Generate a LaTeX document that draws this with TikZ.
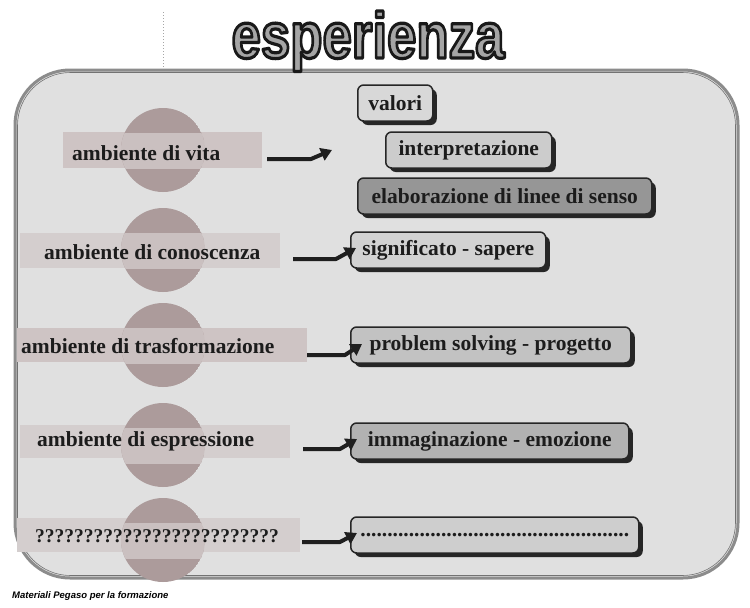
\documentclass[tikz,border=0pt]{standalone}
\usepackage{fontspec}
\setmainfont{Liberation Serif}
\newfontfamily\titlefont{Liberation Sans}
\usetikzlibrary{shadows,arrows.meta,calc}
\definecolor{boxbg}{RGB}{224,224,224}
\definecolor{boxedge}{RGB}{140,140,140}
\definecolor{circdark}{RGB}{172,155,155}
\definecolor{circlight}{RGB}{202,192,192}
\definecolor{bandcol}{RGB}{206,196,196}
\definecolor{bandfaint}{RGB}{212,206,206}
\definecolor{inkcol}{RGB}{28,28,28}
\definecolor{fillA}{RGB}{216,216,216}
\definecolor{fillB}{RGB}{204,204,204}
\definecolor{fillC}{RGB}{150,150,150}
\definecolor{fillD}{RGB}{210,210,210}
\definecolor{fillE}{RGB}{194,194,194}
\definecolor{fillF}{RGB}{178,178,178}
\definecolor{fillG}{RGB}{206,206,206}
\definecolor{titlefill}{RGB}{165,165,165}
\newcommand{\outlinedtext}[1]{\special{pdf:literal direct 0.1 G 2.4 w 1 j 2 Tr}#1\special{pdf:literal direct 0 Tr}}
\begin{document}
\begin{tikzpicture}[x=1pt,y=-1pt,
  envlabel/.style={font=\bfseries\fontsize{21.5}{24}\selectfont, text=inkcol, inner sep=0pt},
  rbox/.style={draw=black!85, line width=1.5pt, rounded corners=6pt,
     font=\bfseries\fontsize{21.5}{24}\selectfont, text=inkcol, minimum height=36pt,
     inner xsep=6pt, inner ysep=0pt, anchor=west,
     drop shadow={shadow xshift=4pt, shadow yshift=-4pt, fill=black!85, opacity=1}},
  conn/.style={line width=4pt, draw=black!88, line join=round,
     -{Triangle[length=11pt,width=13pt]}},
  band/.style={fill=bandcol},
  fband/.style={fill=bandfaint}
]
\useasboundingbox (0,0) rectangle (750,608);
\fill[white] (0,0) rectangle (750,608);

% faint dotted guide above the frame
\draw[black!35, dotted, line width=1pt] (163,12) -- (163,70);

% main frame
\draw[boxedge, line width=3pt, fill=boxbg, rounded corners=55pt] (15,70) rectangle (738,578);
\draw[black!55, line width=0.6pt, rounded corners=53pt] (17.5,72.5) rectangle (735.5,575.5);

% label bands
\fill[band] (63,132) rectangle (262,168);
\fill[fband] (20,233) rectangle (280,268);
\fill[band] (17,328) rectangle (307,362);
\fill[fband] (20,425) rectangle (290,458);
\fill[fband] (17,518) rectangle (300,552);

% circles
\foreach \cy in {150,250,345,445,540}{
  \begin{scope}
    \clip (163,\cy) circle (42);
    \fill[circdark] (163,\cy) circle (42);
    \fill[circlight] (110,\cy-17) rectangle (216,\cy+19);
  \end{scope}
}

% environment labels
\node[envlabel, anchor=west] (env1) at (72,153) {ambiente di vita};
\node[envlabel, anchor=west] (env2) at (44,252) {ambiente di conoscenza};
\node[envlabel, anchor=west] (env3) at (21,346) {ambiente di trasformazione};
\node[envlabel, anchor=west] (env4) at (37,441) {ambiente di espressione};
\node[envlabel, anchor=west, font=\bfseries\fontsize{19.5}{24}\selectfont] (env5) at (35,536) {?????????????????????????};

% right boxes
\node[rbox, fill=fillA, minimum width=75pt] (valori) at (357,103) {valori};
\node[rbox, fill=fillB, minimum width=166pt] (interp) at (385,150) {interpretazione};
\node[rbox, fill=fillC, minimum width=294pt] (elab) at (357,196) {elaborazione di linee di senso};
\node[rbox, fill=fillD, minimum width=195pt] (signif) at (350,250) {significato - sapere};
\node[rbox, fill=fillE, minimum width=280pt] (probl) at (350,345) {problem solving - progetto};
\node[rbox, fill=fillF, minimum width=278pt] (immag) at (350,441) {immaginazione - emozione};
\node[rbox, fill=fillG, minimum width=288pt] (dots) at (350,535) {..................................................};

% connectors
\coordinate (s1) at (267,159); \coordinate (e1) at (332,150);
\coordinate (s2) at (293,259); \coordinate (e2) at (356,248);
\coordinate (s3) at (307,355); \coordinate (e3) at (362,344);
\coordinate (s4) at (303,449); \coordinate (e4) at (357,439);
\coordinate (s5) at (302,542); \coordinate (e5) at (357,533);
\draw[conn] (s1) -- ++(44,0) -- (e1);
\draw[conn] (s2) -- ++(43,0) -- (e2);
\draw[conn] (s3) -- ++(38,0) -- (e3);
\draw[conn] (s4) -- ++(37,0) -- (e4);
\draw[conn] (s5) -- ++(38,0) -- (e5);

% title (WordArt style)
\node[anchor=base, inner sep=0pt, text=titlefill] (title) at (368,58)
  {\scalebox{1.1}[1.35]{\titlefont\bfseries\fontsize{48}{48}\selectfont\outlinedtext{esperienza}}};

% footer
\node[anchor=west, inner sep=0pt, font=\titlefont\bfseries\itshape\fontsize{9.5}{11}\selectfont, text=black] (footer) at (12,596) {Materiali Pegaso per la formazione};
\end{tikzpicture}
\end{document}
